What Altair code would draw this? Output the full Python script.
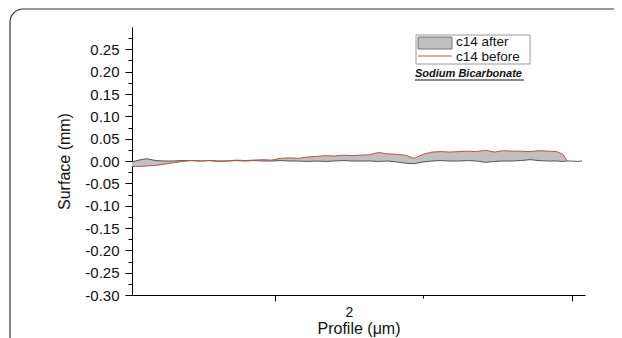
import altair as alt
import pandas as pd

# profile positions (x, data units) and surface heights (mm)
xs = [0.04, 0.10, 0.14, 0.20, 0.26, 0.32, 0.38, 0.44, 0.50, 0.56, 0.62, 0.68, 0.74, 0.80,
      0.86, 0.92, 0.98, 1.04, 1.10, 1.16, 1.22, 1.28, 1.34, 1.40, 1.46, 1.52, 1.58, 1.64,
      1.70, 1.76, 1.82, 1.88, 1.94, 2.00, 2.06, 2.12, 2.18, 2.24, 2.30, 2.36, 2.42, 2.48,
      2.54, 2.60, 2.66, 2.72, 2.78, 2.84, 2.90, 2.94, 2.97, 3.00, 3.04, 3.07]
after = [-0.002, 0.003, 0.005, 0.001, 0.000, 0.000, 0.001, 0.001, 0.000, 0.001, 0.000, 0.000,
         0.001, 0.000, 0.001, 0.000, 0.000, 0.001, 0.000, 0.000, -0.001, 0.000, -0.001, 0.000,
         0.001, 0.000, 0.000, 0.000, -0.001, 0.000, -0.002, -0.005, -0.006, -0.002, 0.000,
         0.001, 0.000, 0.000, 0.001, 0.000, -0.003, -0.001, 0.000, 0.000, 0.001, 0.003, 0.001,
         0.000, 0.000, -0.001, 0.000, 0.000, -0.001, 0.000]
before = [-0.012, -0.012, -0.011, -0.010, -0.007, -0.004, -0.001, 0.001, 0.000, 0.001, -0.001,
          0.000, 0.002, 0.001, 0.002, 0.003, 0.002, 0.006, 0.007, 0.006, 0.009, 0.010, 0.012,
          0.011, 0.013, 0.012, 0.013, 0.014, 0.019, 0.016, 0.015, 0.013, 0.006, 0.015, 0.020,
          0.021, 0.020, 0.021, 0.022, 0.021, 0.024, 0.020, 0.023, 0.022, 0.022, 0.021, 0.023,
          0.022, 0.021, 0.015, 0.001, None, None, None]

series_names = ["c14 after", "c14 before"]
note = "Sodium Bicarbonate"
y_ticks = [round(-0.30 + 0.025 * i, 3) for i in range(24)]  # -0.30 .. 0.275
x_ticks = [1, 1.5, 2, 3]

df = pd.DataFrame({"x": xs, "after": after, "before": before})
df_b = df.dropna()

W, H = 453, 268
FONT = "Liberation Sans"

xscale = alt.Scale(domain=[0.04, 3.09], nice=False, zero=False)
yscale = alt.Scale(domain=[-0.30, 0.30], nice=False, zero=False)

xaxis = alt.Axis(
    values=x_ticks, title="Profile (\u03bcm)", grid=False,
    labelExpr="datum.value == 1.5 ? '2' : ''",
    tickOpacity={"condition": {"test": "datum.value == 1.5", "value": 0}, "value": 1},
    tickSize={"condition": {"test": "datum.value == 2", "value": 3}, "value": 6},
    labelFontSize=14, titleFontSize=16, labelPadding=4, titlePadding=1,
    labelFlush=False,
)
yaxis = alt.Axis(
    values=y_ticks, title="Surface (mm)", grid=False,
    labelExpr="round(datum.value*100) % 5 == 0 ? replace(format(datum.value, '.2f'), '\u2212', '-') : ''",
    tickSize={"condition": {"test": "round(datum.value*1000) % 50 != 0", "value": 4}, "value": 7},
    labelFontSize=15, titleFontSize=16, labelPadding=6, titlePadding=12,
    labelFlush=False,
)

X = alt.X("x:Q", scale=xscale, axis=xaxis)

area = alt.Chart(df_b).mark_area(color="#c0c0c0", opacity=1, interpolate="linear").encode(
    x=X,
    y=alt.Y("before:Q", scale=yscale, axis=yaxis),
    y2="after:Q",
)
line_after = alt.Chart(df).mark_line(color="#555555", strokeWidth=1).encode(
    x=X, y=alt.Y("after:Q", scale=yscale, axis=yaxis)
)
line_before = alt.Chart(df_b).mark_line(color="#c0504d", strokeWidth=1).encode(
    x=X, y=alt.Y("before:Q", scale=yscale, axis=yaxis)
)

one = pd.DataFrame({"k": [0]})
frame = alt.Chart(one).mark_rect(
    fill="white", fillOpacity=0, stroke="#333333", strokeWidth=1.2, cornerRadius=13
).encode(x=alt.value(-122), x2=alt.value(W + 300), y=alt.value(-18), y2=alt.value(H + 200))

leg_box = alt.Chart(one).mark_rect(fill="white", stroke="#9a9a9a", strokeWidth=1).encode(
    x=alt.value(284), x2=alt.value(398), y=alt.value(8), y2=alt.value(37)
)
leg_swatch = alt.Chart(one).mark_rect(fill="#c0c0c0", stroke="#777777", strokeWidth=1).encode(
    x=alt.value(286), x2=alt.value(320), y=alt.value(10), y2=alt.value(22)
)
leg_line = alt.Chart(one).mark_rule(color="#c0504d", strokeWidth=1).encode(
    x=alt.value(286), x2=alt.value(320), y=alt.value(29)
)
leg_text = alt.Chart(pd.DataFrame({"t": series_names, "yy": [15, 29.5]})).mark_text(
    align="left", baseline="middle", font=FONT, fontSize=13.5, color="#111111"
).encode(x=alt.value(324), y=alt.Y("yy:Q", scale=None), text="t:N")
note_text = alt.Chart(pd.DataFrame({"t": [note]})).mark_text(
    align="left", baseline="middle", font=FONT, fontSize=11, fontWeight="bold",
    fontStyle="italic", color="#111111"
).encode(x=alt.value(283), y=alt.value(47), text="t:N")
note_line = alt.Chart(one).mark_rule(color="#111111", strokeWidth=1).encode(
    x=alt.value(283), x2=alt.value(392), y=alt.value(53)
)

chart = alt.layer(
    frame, area, line_after, line_before, leg_box, leg_swatch, leg_line, leg_text,
    note_text, note_line
).properties(
    width=W, height=H,
    autosize="none",
    background="white",
    padding={"left": 124, "top": 19, "right": 29, "bottom": 43},
).configure_view(stroke=None).configure_axis(
    domainColor="#000000", tickColor="#000000", labelColor="#111111", titleColor="#111111",
    labelFont=FONT, titleFont=FONT, titleFontWeight="normal", domainWidth=1, tickWidth=1,
)

chart.save("out.html", embed_options={"renderer": "svg", "actions": False})
